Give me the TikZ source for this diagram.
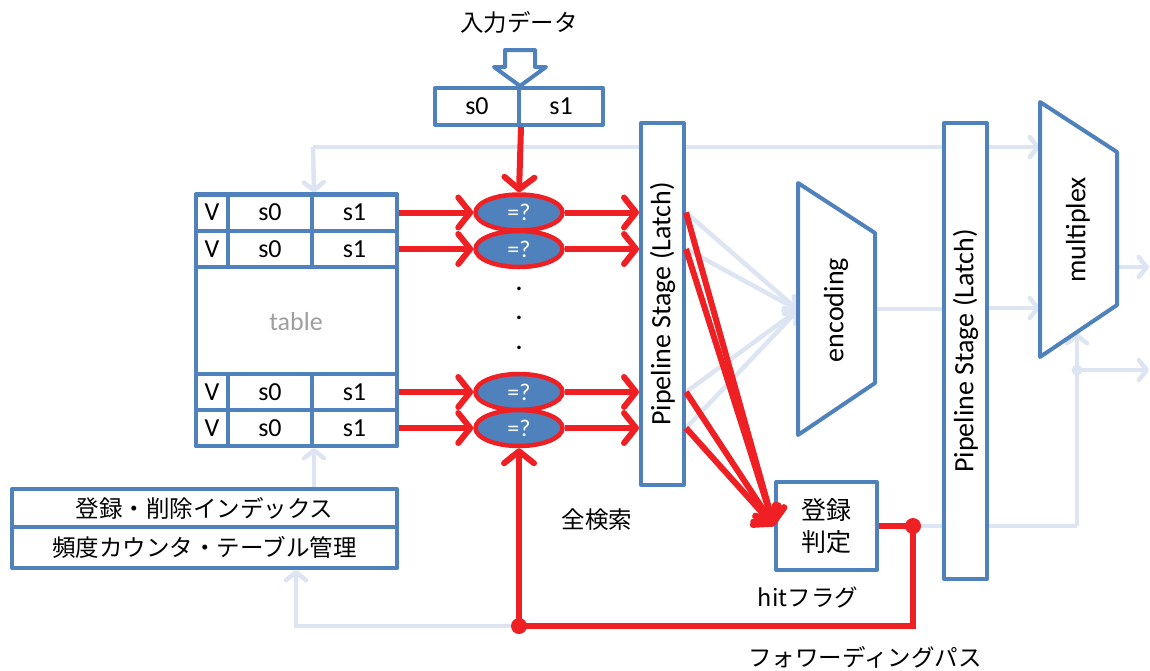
\documentclass[tikz,border=0pt]{standalone}
\usepackage{fontspec}
\setmainfont{Carlito}
\newfontfamily\jp{Noto Sans CJK JP}
\usetikzlibrary{arrows.meta,shapes.geometric,calc}
\definecolor{bl}{HTML}{4F81BD}
\definecolor{lt}{HTML}{DCE5F1}
\definecolor{rd}{HTML}{EE2024}
\pgfdeclarelayer{bg}
\pgfsetlayers{bg,main}
\begin{document}
\begin{tikzpicture}[x=1pt,y=-1pt,
 box/.style={draw=bl,line width=4pt,fill=white,inner sep=0pt,line join=round},
 cell/.style={box,minimum height=36pt,font=\fontsize{26}{26}\selectfont},
 cmp/.style={ellipse,draw=rd,line width=4.5pt,fill=bl,minimum width=87pt,minimum height=36pt,inner sep=0pt,text=white,font=\fontsize{24}{24}\selectfont},
 redarr/.style={draw=rd,line width=6pt,-{Straight Barb[length=12pt,width=30pt,round]}},
 redln/.style={draw=rd,line width=6pt,line join=miter},
 ltarr/.style={draw=lt,line width=4.5pt,-{Straight Barb[length=8pt,width=20pt,round]}},
 ltln/.style={draw=lt,line width=4.5pt},
 lbl/.style={font=\jp\fontsize{23.5}{23.5}\selectfont},
 latin/.style={font=\fontsize{28}{28}\selectfont},
 dotmark/.style={inner sep=0pt,font=\bfseries\fontsize{24}{24}\selectfont},
 ]
\useasboundingbox (0,0) rectangle (1150,670);

% title and input
\node[lbl] (title) at (519,22) {入力データ};
\draw[box] (505,50) -- (535,50) -- (535,67) -- (546,67) -- (520,86) -- (494,67) -- (505,67) -- cycle;
\node[cell,minimum width=84pt,minimum height=37pt] (in0) at (477,106.5) {s0};
\node[cell,minimum width=84pt,minimum height=37pt] (in1) at (561,106.5) {s1};

% table
\node[box,minimum width=201pt,minimum height=252pt] (tbl) at (296.5,320) {};
\node[text=black!38,font=\fontsize{26}{26}\selectfont] (tlabel) at (296,322) {table};
\foreach \y/\n in {212.5/1,249/2,392/3,428/4}{
  \node[cell,minimum width=32pt] (v\n) at (212,\y) {V};
  \node[cell,minimum width=84pt] (a\n) at (270,\y) {s0};
  \node[cell,minimum width=85pt] (b\n) at (354.5,\y) {s1};
  \node[cmp] (c\n) at (519,\y) {=?};
}
\node[dotmark] (d1) at (519,289) {.};
\node[dotmark] (d2) at (519,318) {.};
\node[dotmark] (d3) at (519,348) {.};

% pipeline stages
\node[box,minimum width=43pt,minimum height=362pt] (p1) at (662.5,304) {};
\node[latin,rotate=90] (p1t) at (p1) {Pipeline Stage (Latch)};
\node[box,minimum width=43pt,minimum height=456pt] (p2) at (965.5,351) {};
\node[latin,rotate=90] (p2t) at (p2) {Pipeline Stage (Latch)};

% encoding and multiplex
\draw[box] (798,183) -- (875,233) -- (875,383) -- (798,435) -- cycle;
\node[latin,rotate=90] (enct) at (836,310) {encoding};
\coordinate (encL) at (798,310);
\coordinate (encR) at (875,309);
\draw[box] (1040,102) -- (1117,152) -- (1117,305) -- (1040,357) -- cycle;
\node[latin,rotate=90] (muxt) at (1078,230) {multiplex};
\coordinate (muxin1) at (1040,147);
\coordinate (muxin2) at (1040,308);
\coordinate (muxout) at (1117,267);
\coordinate (outend1) at (1149,267);
\coordinate (sel) at (1077,526);
\coordinate (muxsel) at (1077,333);
\coordinate (seldot) at (1077,370);
\coordinate (outend2) at (1149,370);

% judge box and left boxes
\node[box,minimum width=101pt,minimum height=88pt,align=center,font=\jp\fontsize{25}{32}\selectfont] (judge) at (826.5,526) {登録\\判定};
\node[box,minimum width=385pt,minimum height=38pt,lbl] (idx) at (204.5,508) {登録・削除インデックス};
\node[box,minimum width=385pt,minimum height=41pt,lbl] (freq) at (204.5,547.5) {頻度カウンタ・テーブル管理};

% labels
\node[lbl] (all) at (597,520) {全検索};
\node[lbl] (hit) at (808,597) {hitフラグ};
\node[lbl] (fwd) at (865,657) {フォワーディングパス};

% coordinates for feedback
\coordinate (fdot) at (913,526);
\coordinate (fcorner) at (913,626);
\coordinate (bdot) at (519,626);
\coordinate (lcorner) at (296,626);
\coordinate (topL) at (313,147);

% light connectors
\begin{pgfonlayer}{bg}
  \draw[ltarr] (topL) -- (muxin1);
  \draw[ltarr] (topL) -- (a1.north east);
  \foreach \n in {1,2,3,4}{
    \draw[ltarr] (p1.east |- c\n.east) -- (encL);
  }
  \draw[ltln] (encR) -- (p2.west |- encR);
  \draw[ltarr] (p2.east |- muxin2) -- (muxin2);
  \draw[ltarr] (muxout) -- (outend1);
  \draw[ltln] (p2.east |- sel) -- (sel);
  \draw[ltarr] (sel) -- (muxsel);
  \draw[ltarr] (seldot) -- (outend2);
  \fill[lt] (seldot) circle (5.5pt);
  \draw[ltln] (fdot) -- (p2.west |- fdot);
  \draw[ltarr] (bdot) -- (lcorner) -- (lcorner |- freq.south);
  \draw[ltarr] (idx.north -| a4.south east) -- (a4.south east);
\end{pgfonlayer}

% red connectors
\draw[redarr] (in0.south east) -- (c1.north);
\foreach \n in {1,2,3,4}{
  \draw[redarr] (b\n.east) -- (c\n.west);
  \draw[redarr] (c\n.east) -- (p1.west |- c\n.east);
  \draw[redarr] (p1.east |- c\n.east) -- (judge.west);
}
\draw[redln] (judge.east) -- (fdot) -- (fcorner) -- (bdot);
\draw[redarr] (bdot) -- (c4.south);
\fill[rd] (fdot) circle (8pt);
\fill[rd] (bdot) circle (8pt);
\end{tikzpicture}
\end{document}
